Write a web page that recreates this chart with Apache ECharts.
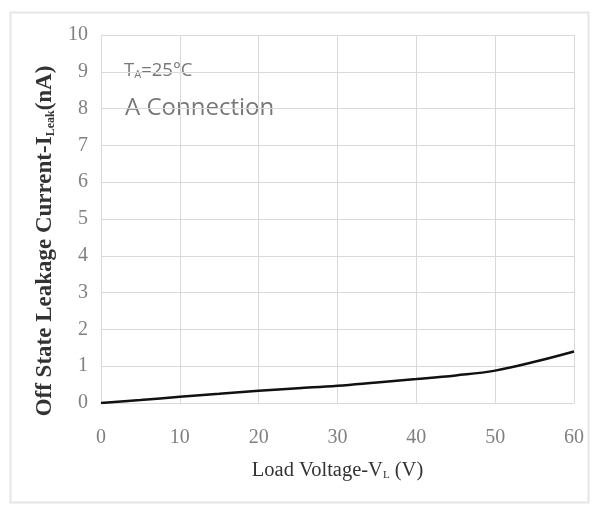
<!DOCTYPE html>
<html><head><meta charset="utf-8">
<script src="https://cdn.jsdelivr.net/npm/echarts@6/dist/echarts.min.js"></script>
<style>html,body{margin:0;padding:0;background:#fff}#c{width:595px;height:511px}</style>
</head><body><div id="c"></div>
<script>
var voltage = [0, 5, 10, 15, 20, 25, 30, 35, 40, 45, 50, 55, 60];
var leakage = [0, 0.08, 0.17, 0.25, 0.33, 0.40, 0.47, 0.56, 0.65, 0.75, 0.88, 1.12, 1.40];
var xTicks = [0, 10, 20, 30, 40, 50, 60];
var yTicks = [0, 1, 2, 3, 4, 5, 6, 7, 8, 9, 10];

var chart = echarts.init(document.getElementById('c'));
var serif = '"Liberation Serif", "DejaVu Serif", serif';
var sans = '"Open Sans", "Noto Sans", sans-serif';
chart.setOption({
  animation: false,
  backgroundColor: '#fff',
  grid: {left: 101, right: 21, top: 35, bottom: 108},
  xAxis: {
    type: 'value', min: xTicks[0], max: xTicks[xTicks.length - 1], interval: 10,
    axisLine: {show: true, lineStyle: {color: '#d9d9d9'}},
    axisTick: {show: false},
    splitLine: {show: true, lineStyle: {color: '#d9d9d9', width: 1}},
    axisLabel: {color: '#808080', fontFamily: serif, fontSize: 20, margin: 25},
    name: '{t|Load Voltage-V}{s|L}{t| (V)}',
    nameLocation: 'middle', nameGap: 57,
    nameTextStyle: {rich: {
      t: {fontFamily: serif, fontSize: 20.5, color: '#333'},
      s: {fontFamily: serif, fontSize: 11, color: '#333', verticalAlign: 'bottom', padding: [10,0,0,0]}
    }}
  },
  yAxis: {
    type: 'value', min: yTicks[0], max: yTicks[yTicks.length - 1], interval: 1,
    axisLine: {show: true, lineStyle: {color: '#d9d9d9'}},
    axisTick: {show: false},
    splitLine: {show: true, lineStyle: {color: '#d9d9d9', width: 1}},
    axisLabel: {color: '#808080', fontFamily: serif, fontSize: 20, margin: 13},
    name: '{t|Off State Leakage Current-I}{s|Leak}{t|(nA)}',
    nameLocation: 'middle', nameGap: 44, nameRotate: 90,
    nameTextStyle: {padding: [0, 44, 0, 0], rich: {
      t: {fontFamily: serif, fontSize: 23, color: '#333', fontWeight: 'bold'},
      s: {fontFamily: serif, fontSize: 12, color: '#333', fontWeight: 'bold', verticalAlign: 'bottom', padding: [11,0,0,0]}
    }}
  },
  graphic: [
    {type: 'rect', left: 8, top: 10, shape: {width: 578, height: 490}, style: {fill: 'none', stroke: '#e6e6e6', lineWidth: 2}, z: -1},
    {type: 'text', left: 124, top: 61, style: {rich: {
      a: {fontFamily: sans, fontSize: 18.5, fill: '#777'},
      b: {fontFamily: sans, fontSize: 11, fill: '#777', verticalAlign: 'bottom', padding: [9,0,0,0]}
    }, text: '{a|T}{b|A}{a|=25°C}'}},
    {type: 'text', left: 125, top: 96, style: {text: 'A Connection', fontFamily: sans, fontSize: 24, fill: '#777'}}
  ],
  series: [{
    type: 'line', smooth: 0.4, symbol: 'none',
    lineStyle: {color: '#111', width: 2.5},
    data: voltage.map(function(v, i){ return [v, leakage[i]]; })
  }]
});
</script></body></html>
